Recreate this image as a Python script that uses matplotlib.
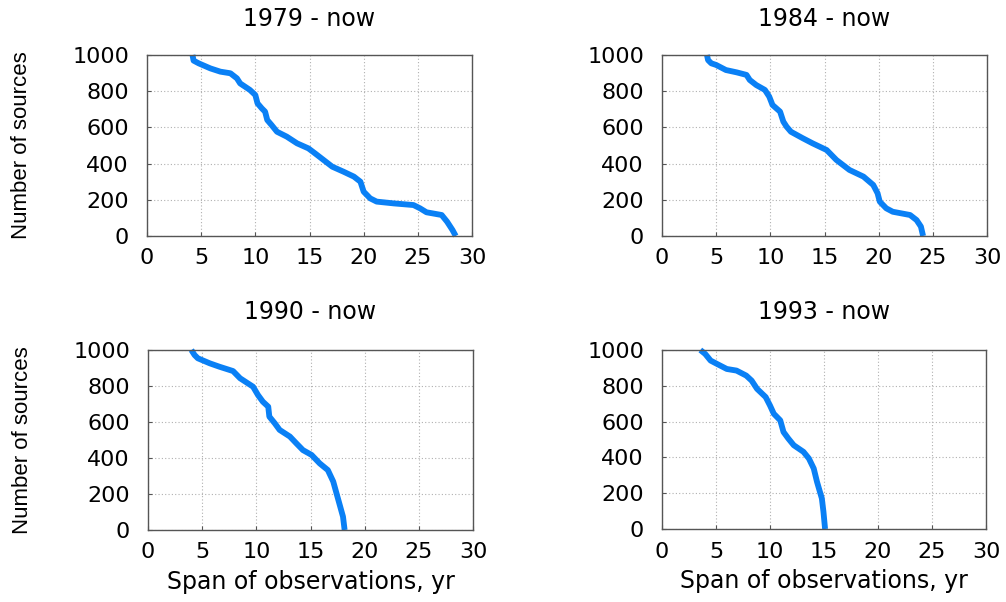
import matplotlib
matplotlib.use("Agg")
import matplotlib.pyplot as plt

plt.rcParams['font.family'] = ['DejaVu Sans']

titles = ["1979 - now", "1984 - now", "1990 - now", "1993 - now"]

span_1979 = [4.2, 4.3, 4.77, 5.85, 6.77, 7.7, 8.3, 8.6, 9.5, 10.0, 10.2, 10.6, 10.9, 11.1, 11.5, 12.0,
             12.9, 13.85, 14.9, 15.5, 16.3, 17.1, 18.15, 19.1, 19.7, 20.0, 20.6, 21.2, 22.8, 24.6,
             25.2, 25.8, 27.2, 27.7, 28.2, 28.5]
n_1979 = [1000, 969, 954, 926, 908, 899, 871, 843, 807, 779, 733, 705, 687, 641, 613, 576,
          549, 512, 484, 457, 420, 383, 355, 328, 300, 245, 208, 190, 180, 171,
          153, 131, 116, 79, 33, 0]

span_1984 = [4.15, 4.25, 4.55, 5.0, 5.9, 6.9, 7.8, 8.1, 8.7, 9.5, 9.9, 10.2, 10.9, 11.2, 11.5, 11.9,
             13.0, 13.9, 15.2, 16.1, 17.3, 18.6, 19.5, 19.9, 20.1, 20.7, 21.3, 22.9, 23.5, 23.9, 24.1]
n_1984 = [1000, 972, 954, 945, 917, 904, 890, 862, 834, 807, 770, 724, 687, 632, 604, 576,
          540, 512, 475, 420, 365, 328, 282, 236, 190, 153, 134, 116, 88, 52, 0]

span_1990 = [4.0, 4.3, 4.6, 5.7, 6.6, 7.85, 8.5, 9.7, 10.15, 10.6, 11.1, 11.2, 11.7, 12.15, 13.1,
             13.7, 14.3, 15.1, 15.85, 16.6, 17.1, 17.4, 17.7, 18.0, 18.15]
n_1990 = [1000, 972, 954, 926, 907, 883, 843, 796, 750, 713, 685, 630, 593, 556, 519,
          481, 444, 417, 370, 333, 269, 204, 139, 74, 0]

span_1993 = [3.55, 4.0, 4.5, 5.1, 6.0, 6.9, 7.8, 8.3, 8.8, 9.6, 10.0, 10.35, 10.95, 11.25, 11.7,
             12.2, 13.1, 13.6, 14.05, 14.35, 14.8, 14.95, 15.1]
n_1993 = [1000, 978, 941, 922, 894, 885, 857, 829, 783, 737, 690, 644, 607, 542, 505,
          468, 431, 394, 338, 264, 171, 96, 0]

x_ticks = [0, 5, 10, 15, 20, 25, 30]
y_ticks = [0, 200, 400, 600, 800, 1000]

series = [(span_1979, n_1979), (span_1984, n_1984), (span_1990, n_1990), (span_1993, n_1993)]

W, H = 1006, 602
fig = plt.figure(figsize=(W / 100, H / 100), dpi=100)
# axes rectangles in pixels: (left, top, right, bottom)
boxes = [(147, 55, 472, 236), (662, 55, 987, 236), (148, 350, 473, 530), (662, 350, 986, 529)]

for i, ((l, t, r, b), (xs, ys), title) in enumerate(zip(boxes, series, titles)):
    ax = fig.add_axes([l / W, 1 - b / H, (r - l) / W, (b - t) / H])
    ax.plot(xs, ys, color='#0a80f5', lw=4.2, solid_capstyle='butt', solid_joinstyle='round', clip_on=False)
    ax.set_xlim(0, 30)
    ax.set_ylim(0, 1000)
    ax.set_xticks(x_ticks)
    ax.set_yticks(y_ticks)
    ax.grid(True, linestyle=(0, (1, 2)), color='#b0b0b0', lw=0.8)
    ax.tick_params(direction='in', length=3, width=0.8, color='#555555', labelsize=16)
    ax.tick_params(axis='x', pad=9)
    ax.tick_params(axis='y', pad=13)
    for s in ax.spines.values():
        s.set_color('#555555')
        s.set_linewidth(1.0)
    ax.set_title(title, fontsize=17, pad=21 if i < 2 else 22)
    if i % 2 == 0:
        ax.set_ylabel("Number of sources", fontsize=16, family=['Liberation Sans', 'DejaVu Sans'])
        ax.yaxis.set_label_coords(-0.354, 0.5)
    if i >= 2:
        ax.set_xlabel("Span of observations, yr", fontsize=17)
        ax.xaxis.set_label_coords(0.5, -0.225)

fig.savefig("out.png", dpi=100, facecolor='white')
